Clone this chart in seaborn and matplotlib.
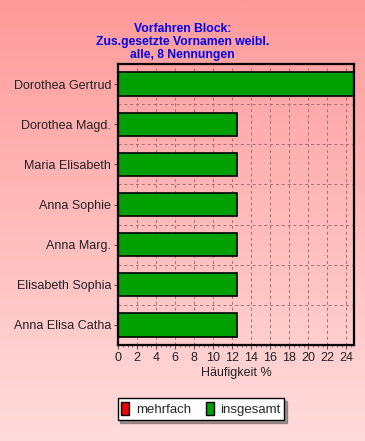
import matplotlib
import matplotlib.pyplot as plt
import seaborn as sns
import numpy as np
import pandas as pd
from matplotlib.colors import LinearSegmentedColormap
from matplotlib.patches import Patch
matplotlib.use("Agg")

names = ["Dorothea Gertrud", "Dorothea Magd.", "Maria Elisabeth", "Anna Sophie",
         "Anna Marg.", "Elisabeth Sophia", "Anna Elisa Catha"]
insgesamt = [25, 12.5, 12.5, 12.5, 12.5, 12.5, 12.5]
x_ticks = list(range(0, 25, 2))
title = "Vorfahren Block:\nZus.gesetzte Vornamen weibl.\nalle, 8 Nennungen"


def main():
    sns.set_style("white")
    plt.rcParams["font.family"] = ["Liberation Sans", "DejaVu Sans"]
    df = pd.DataFrame({"name": names, "value": insgesamt})

    fig = plt.figure(figsize=(3.65, 4.41), dpi=100)
    # gradient background over whole figure
    bg = fig.add_axes([0, 0, 1, 1], zorder=-10)
    cmap = LinearSegmentedColormap.from_list("bg", ["#ff9a9a", "#ffdcdc"])
    bg.imshow(np.linspace(0, 1, 256).reshape(-1, 1), aspect="auto", cmap=cmap,
              extent=[0, 1, 0, 1], origin="upper")
    bg.axis("off")

    ax = fig.add_axes([118 / 365, 1 - 345 / 441, 236 / 365, 281 / 441])
    ax.patch.set_alpha(0)
    sns.barplot(data=df, x="value", y="name", orient="h", color="#00a000",
                edgecolor="black", linewidth=1.2, width=0.58, saturation=1, ax=ax)
    ax.set_xlim(0, 24.8)
    ax.set_ylim(6.5, -0.5)
    ax.set_xticks(x_ticks)
    ax.set_xticks(np.arange(0, 25, 0.5), minor=True)
    ax.grid(False)
    for x in x_ticks[1:]:
        ax.axvline(x, color="#a07070", lw=0.7, ls=(0, (3, 3)), zorder=0)
    for y in np.arange(0.5, 6.5, 1):
        ax.axhline(y, color="#a07070", lw=0.7, ls=(0, (3, 3)), zorder=0)
    for s in ax.spines.values():
        s.set_color("black")
        s.set_linewidth(1.6)
    ax.tick_params(axis="both", which="major", length=3, color="#555555",
                   labelsize=9, pad=2, left=True, bottom=True, labelcolor="#222222")
    ax.tick_params(axis="x", which="minor", length=1.5, color="#555555", bottom=True)
    ax.set_ylabel("")
    ax.set_xlabel("Häufigkeit %", fontsize=9, labelpad=2, color="#222222")
    fig.text(0.5, 1 - 23 / 441, title, ha="center", va="top", color="#0000ee",
             fontsize=8.7, fontweight="bold", linespacing=1.1)

    handles = [Patch(facecolor="#ee0000", edgecolor="black", label="mehrfach"),
               Patch(facecolor="#00a000", edgecolor="black", label="insgesamt")]
    leg = fig.legend(handles=handles, ncol=2, loc="center",
                     bbox_to_anchor=(201 / 365, 1 - 409 / 441), frameon=True,
                     fancybox=False, shadow=True, edgecolor="black", fontsize=9.5,
                     handlelength=0.6, handleheight=1.1, handletextpad=0.5,
                     columnspacing=1.1, borderpad=0.3, borderaxespad=0)
    leg.get_frame().set_facecolor("white")
    leg.get_frame().set_linewidth(1)

    plt.savefig("out.png", dpi=100)
    plt.close()


if __name__ == "__main__":
    main()
